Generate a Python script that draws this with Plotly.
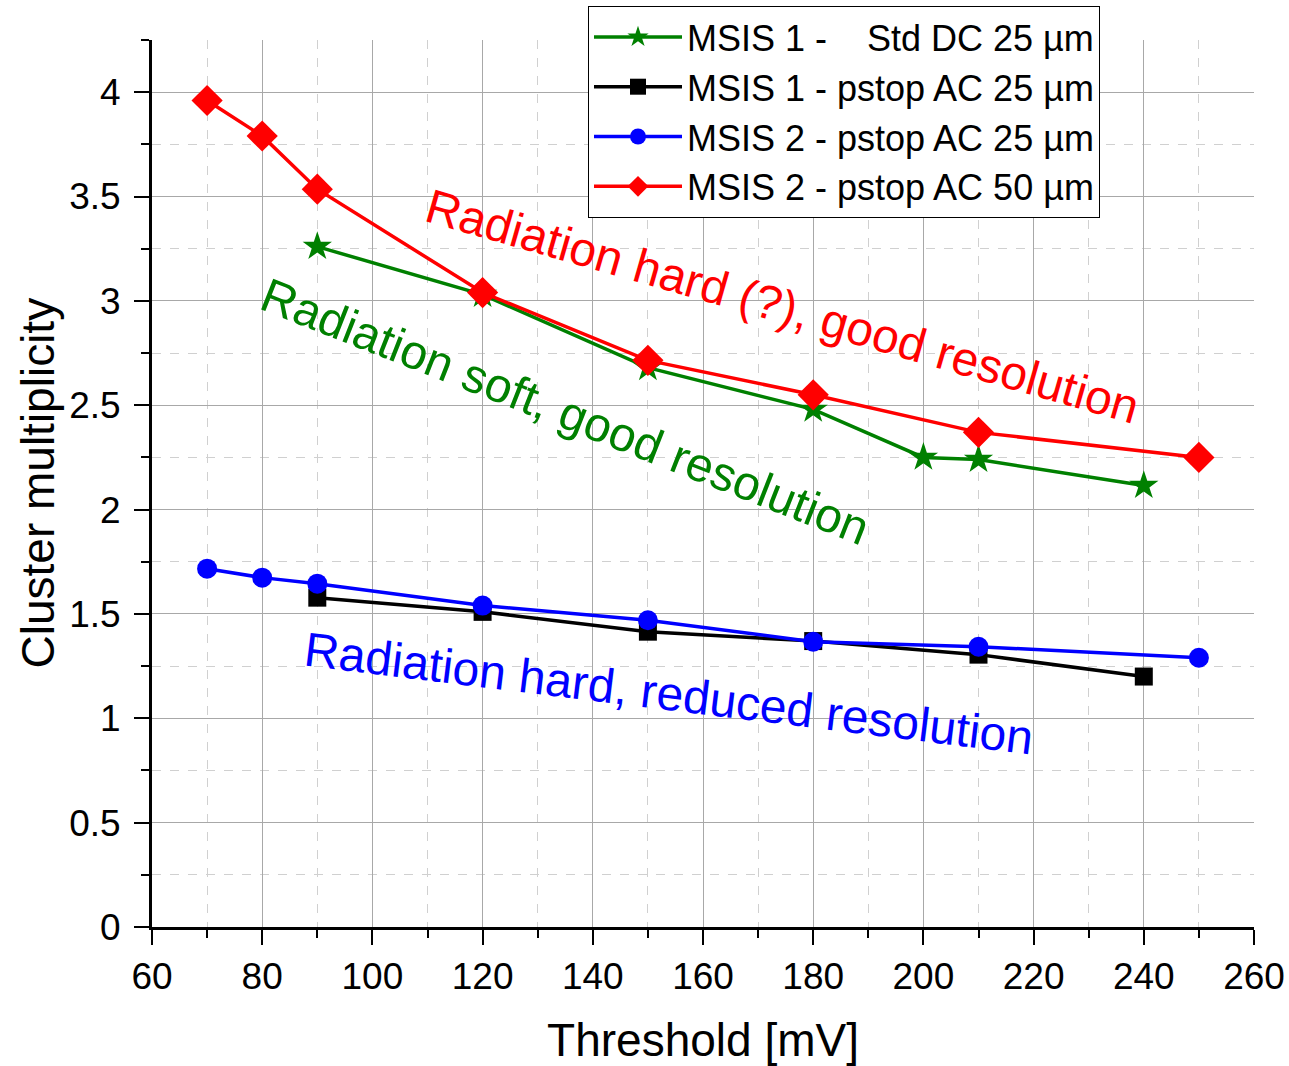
import plotly.graph_objects as go

# Data
x_std_dc = [90, 120, 150, 180, 200, 210, 240]
y_std_dc = [3.26, 3.03, 2.68, 2.48, 2.25, 2.24, 2.115]

x_m1_pstop = [90, 120, 150, 180, 210, 240]
y_m1_pstop = [1.578, 1.51, 1.415, 1.37, 1.305, 1.20]

x_m2_25 = [70, 80, 90, 120, 150, 180, 210, 250]
y_m2_25 = [1.717, 1.674, 1.645, 1.54, 1.47, 1.367, 1.343, 1.29]

x_m2_50 = [70, 80, 90, 120, 150, 180, 210, 250]
y_m2_50 = [3.96, 3.79, 3.535, 3.04, 2.715, 2.55, 2.37, 2.25]

names = ["MSIS 1 -\u00a0\u00a0\u00a0\u00a0Std DC 25 µm",
         "MSIS 1 - pstop AC 25 µm",
         "MSIS 2 - pstop AC 25 µm",
         "MSIS 2 - pstop AC 50 µm"]

FONT = "Liberation Sans, Arial, sans-serif"

fig = go.Figure()
fig.add_trace(go.Scatter(x=x_std_dc, y=y_std_dc, name=names[0], mode="lines+markers",
                         line=dict(color="#008000", width=3.5),
                         marker=dict(symbol="star", size=22, color="#008000")))
fig.add_trace(go.Scatter(x=x_m1_pstop, y=y_m1_pstop, name=names[1], mode="lines+markers",
                         line=dict(color="black", width=3.5),
                         marker=dict(symbol="square", size=18, color="black")))
fig.add_trace(go.Scatter(x=x_m2_25, y=y_m2_25, name=names[2], mode="lines+markers",
                         line=dict(color="#0000ff", width=3.5),
                         marker=dict(symbol="circle", size=20, color="#0000ff")))
fig.add_trace(go.Scatter(x=x_m2_50, y=y_m2_50, name=names[3], mode="lines+markers",
                         line=dict(color="#ff0000", width=3.5),
                         marker=dict(symbol="diamond", size=24, color="#ff0000")))

annotations = [
    dict(x=174.5, y=2.974, text="Radiation hard (?), good resolution", textangle=16,
         font=dict(color="#ff0000", size=48, family=FONT)),
    dict(x=135, y=2.47, text="Radiation soft, good resolution", textangle=21.5,
         font=dict(color="#008000", size=48, family=FONT)),
    dict(x=153.8, y=1.118, text="Radiation hard, reduced resolution", textangle=7,
         font=dict(color="#0000ff", size=48, family=FONT)),
]
for a in annotations:
    fig.add_annotation(xref="x", yref="y", showarrow=False, **a)

# y-axis title (drawn as annotation to keep a fixed layout)
fig.add_annotation(xref="paper", yref="paper", x=(37 - 152) / 1102, y=0.5,
                   text="Cluster multiplicity", textangle=-90, showarrow=False,
                   xanchor="center", yanchor="middle",
                   font=dict(size=46, family=FONT, color="black"))

fig.update_layout(
    width=1289, height=1066,
    margin=dict(l=152, r=35, t=40, b=139, autoexpand=False),
    paper_bgcolor="white", plot_bgcolor="white",
    font=dict(family=FONT, color="black", size=37),
    showlegend=True,
    legend=dict(xref="container", yref="container", x=588 / 1289, y=1 - 6 / 1066,
                xanchor="left", yanchor="top",
                bordercolor="black", borderwidth=1, bgcolor="white",
                font=dict(size=36, family=FONT), tracegroupgap=0, itemwidth=88),
)
fig.update_xaxes(
    range=[60, 260], tickmode="linear", tick0=60, dtick=20, automargin=False,
    showline=True, linecolor="black", linewidth=3,
    ticks="outside", ticklen=15, tickwidth=2, tickcolor="black",
    showgrid=True, gridcolor="#a8a8a8", gridwidth=1,
    minor=dict(dtick=10, ticks="outside", ticklen=8, tickwidth=2, tickcolor="black",
               showgrid=True, gridcolor="#d0d0d0", griddash="dash", gridwidth=1),
    zeroline=False, tickfont=dict(size=37),
    title=dict(text="Threshold [mV]", font=dict(size=46), standoff=30),
)
fig.update_yaxes(
    range=[0, 4.25], tickmode="linear", tick0=0, dtick=0.5, automargin=False,
    showline=True, linecolor="black", linewidth=3,
    ticks="outside", ticklen=15, tickwidth=2, tickcolor="black",
    showgrid=True, gridcolor="#a8a8a8", gridwidth=1,
    minor=dict(dtick=0.25, ticks="outside", ticklen=8, tickwidth=2, tickcolor="black",
               showgrid=True, gridcolor="#d0d0d0", griddash="dash", gridwidth=1),
    zeroline=False, tickfont=dict(size=37), ticklabelstandoff=6,
)

fig.write_html("out.html")
